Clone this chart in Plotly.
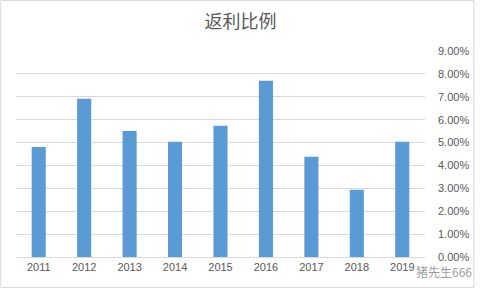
import plotly.graph_objects as go

years = ["2011", "2012", "2013", "2014", "2015", "2016", "2017", "2018", "2019"]
rates = [0.0481, 0.0691, 0.0551, 0.0503, 0.0573, 0.0770, 0.0438, 0.0294, 0.0503]
title_text = "返利比例"
watermark = "猪先生666"

W, H = 481, 288
L, R, T, B = 16, 50, 51, 31
pw, ph = W - L - R, H - T - B

fig = go.Figure(go.Bar(x=years, y=rates, marker_color="#5b9bd5", marker_line_width=0))

fig.update_layout(
    width=W, height=H,
    margin=dict(l=L, r=R, t=T, b=B),
    paper_bgcolor="white", plot_bgcolor="white",
    bargap=0.69,
    showlegend=False,
    title=dict(text=title_text, x=0.5, xanchor="center", y=1 - 22 / H, yanchor="middle",
               font=dict(family="Noto Sans CJK SC", size=18, color="#595959")),
    xaxis=dict(showgrid=False, showline=True, linecolor="#d9d9d9", linewidth=1,
               ticks="", tickfont=dict(family="Liberation Sans", size=11, color="#595959")),
    yaxis=dict(side="right", range=[0, 0.09], dtick=0.01, tickformat=".2%",
               showgrid=True, gridcolor="#d9d9d9", gridwidth=1, zeroline=False,
               showline=False, ticks="", ticklabelstandoff=12,
               tickfont=dict(family="Liberation Sans", size=11, color="#595959")),
    shapes=[dict(type="rect", xref="paper", yref="paper",
                 x0=(0.5 - L) / pw, x1=(W - 0.5 - L) / pw,
                 y0=(H - B - (H - 0.5)) / ph, y1=(H - B - 0.5) / ph,
                 line=dict(color="#d9d9d9", width=1), fillcolor="rgba(0,0,0,0)")],
    annotations=[dict(text=watermark, xref="paper", yref="paper",
                      x=(450 - L) / pw, y=(H - B - 271) / ph, xanchor="center", yanchor="middle",
                      showarrow=False,
                      font=dict(family="Noto Sans CJK SC", size=12, color="rgba(120,120,120,0.75)"))],
)

fig.write_html("out.html")
